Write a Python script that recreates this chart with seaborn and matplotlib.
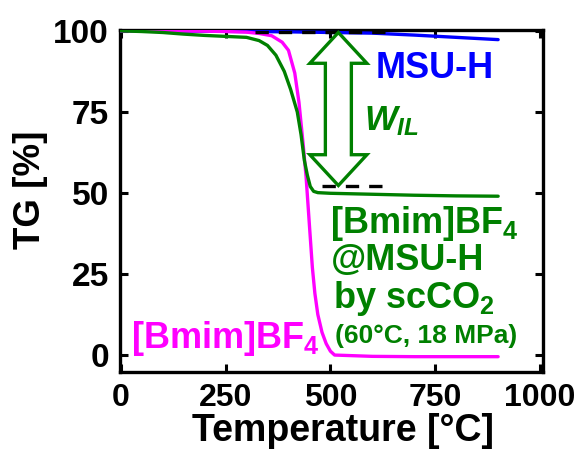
import numpy as np
import pandas as pd
import matplotlib
matplotlib.use("Agg")
import matplotlib.pyplot as plt
import matplotlib.patches as mpatches
import seaborn as sns

# ---------------- data ----------------
msu_T = [0, 100, 200, 300, 400, 500, 600, 700, 800, 900]
msu_TG = [100, 100, 99.9, 99.8, 99.7, 99.5, 99.3, 98.7, 98.0, 97.3]

il_T = [0, 100, 200, 250, 300, 330, 360, 385, 400, 415, 425, 435, 442, 450,
        457, 463, 470, 480, 490, 500, 510, 600, 700, 800, 900]
il_TG = [100, 100, 99.9, 99.8, 99.6, 99.2, 98.5, 96.5, 94, 87, 78, 65, 55, 40,
         27, 19, 12.5, 7, 3.5, 1.2, 0.0, -0.4, -0.5, -0.5, -0.5]

comp_T = [0, 50, 100, 150, 200, 250, 300, 330, 350, 370, 390, 405, 421, 430,
          438, 445, 452, 460, 470, 500, 600, 700, 800, 900]
comp_TG = [100, 99.8, 99.5, 99.0, 98.6, 98.3, 98.0, 97.0, 95.5, 92.5, 87.5, 82,
           75, 68, 60, 55.5, 52, 50.5, 50.1, 49.9, 49.6, 49.3, 49.1, 49.0]

x_ticks = [0, 250, 500, 750, 1000]
y_ticks = [0, 25, 50, 75, 100]

ref_top = 99.5      # dashed reference levels
ref_bot = 52.3

GREEN = "#008000"
BLUE = "#0000FF"
MAGENTA = "#FF00FF"

# ---------------- style ----------------
sns.set_style("ticks")
plt.rcParams["font.family"] = ["Liberation Sans", "DejaVu Sans"]
plt.rcParams["font.weight"] = "bold"
plt.rcParams["text.color"] = "black"
plt.rcParams["axes.labelcolor"] = "black"
plt.rcParams["xtick.color"] = "black"
plt.rcParams["ytick.color"] = "black"
plt.rcParams["mathtext.fontset"] = "custom"
plt.rcParams["mathtext.rm"] = "Liberation Sans:bold"
plt.rcParams["mathtext.it"] = "Liberation Sans:bold:italic"
plt.rcParams["mathtext.bf"] = "Liberation Sans:bold"

fig = plt.figure(figsize=(5.82, 4.53), dpi=100)
ax = fig.add_axes([0.206, 0.179, 0.727, 0.755])

df = pd.concat([
    pd.DataFrame({"T": msu_T, "TG": msu_TG, "s": "MSU-H"}),
    pd.DataFrame({"T": il_T, "TG": il_TG, "s": "IL"}),
    pd.DataFrame({"T": comp_T, "TG": comp_TG, "s": "comp"}),
])

sns.lineplot(data=df, x="T", y="TG", hue="s",
             palette={"MSU-H": BLUE, "IL": MAGENTA, "comp": GREEN},
             hue_order=["MSU-H", "IL", "comp"], lw=2.4, legend=False,
             ax=ax, zorder=3, sort=False)

# dashed reference lines
ax.plot([320, 655], [ref_top, ref_top], color="black", lw=2.4, ls=(0, (4, 3)), zorder=5)
ax.plot([480, 640], [ref_bot, ref_bot], color="black", lw=2.4, ls=(0, (4, 3)), zorder=5)

# hollow double-headed arrow
xc, hw, sw, hl = 519, 68, 31, 9.5
yt, yb = ref_top, ref_bot
poly = [(xc, yt), (xc + hw, yt - hl), (xc + sw, yt - hl), (xc + sw, yb + hl),
        (xc + hw, yb + hl), (xc, yb), (xc - hw, yb + hl), (xc - sw, yb + hl),
        (xc - sw, yt - hl), (xc - hw, yt - hl)]
ax.add_patch(mpatches.Polygon(poly, closed=True, facecolor="white",
                              edgecolor=GREEN, lw=2.4, zorder=6))

# annotations
ax.text(607, 88.5, "MSU-H", color=BLUE, fontsize=26, fontweight="bold",
        ha="left", va="center")
ax.text(580, 72, r"$W_{IL}$", color=GREEN, fontsize=25, ha="left", va="center")
ax.text(500, 37.7, r"[Bmim]BF$_4$", color=GREEN, fontsize=26, fontweight="bold",
        ha="left", va="baseline")
ax.text(500, 26.2, "@MSU-H", color=GREEN, fontsize=26, fontweight="bold",
        ha="left", va="baseline")
ax.text(507, 14.5, r"by scCO$_2$", color=GREEN, fontsize=26, fontweight="bold",
        ha="left", va="baseline")
ax.text(512, 3.7, "(60°C, 18 MPa)", color=GREEN, fontsize=19, fontweight="bold",
        ha="left", va="baseline")
ax.text(24, 2.2, r"[Bmim]BF$_4$", color=MAGENTA, fontsize=26, fontweight="bold",
        ha="left", va="baseline")

# axes
ax.set_xlim(-2, 1007)
ax.set_ylim(-5.2, 100.3)
ax.set_xticks(x_ticks)
ax.set_yticks(y_ticks)
ax.set_xticklabels([str(v) for v in x_ticks])
ax.set_yticklabels([str(v) for v in y_ticks])
ax.tick_params(direction="in", length=6, width=2.2, top=True, right=True,
               labelsize=23, pad=8)
ax.tick_params(axis="y", labelsize=24)
for lab in ax.get_xticklabels() + ax.get_yticklabels():
    lab.set_fontweight("bold")
for sp in ax.spines.values():
    sp.set_linewidth(2.4)
    sp.set_color("black")
ax.set_xlabel("Temperature [°C]", fontsize=27, fontweight="bold")
ax.set_ylabel("TG [%]", fontsize=26.5, fontweight="bold")
ax.xaxis.set_label_coords(0.528, -0.12)
ax.yaxis.set_label_coords(-0.17, 0.532)

fig.savefig("out.png", dpi=100)
